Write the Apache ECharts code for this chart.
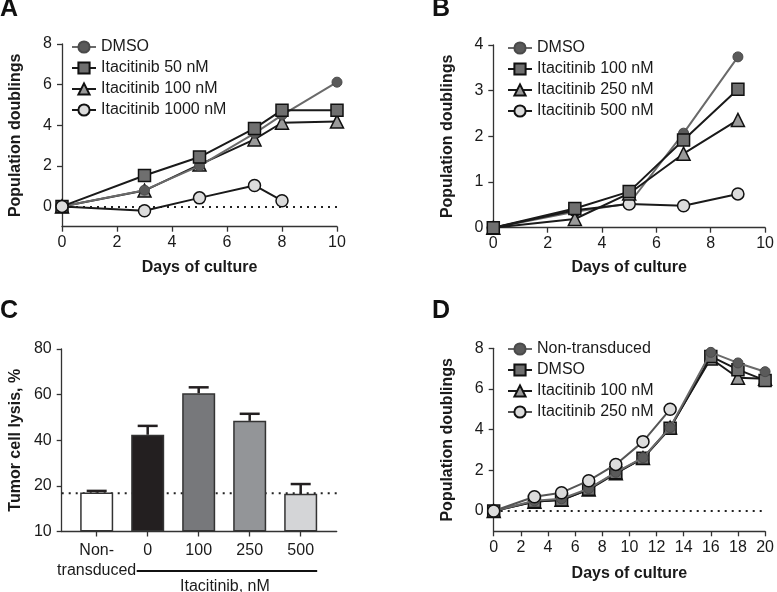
<!DOCTYPE html>
<html><head><meta charset="utf-8">
<script src="https://cdn.jsdelivr.net/npm/echarts@6/dist/echarts.min.js"></script>
<style>html,body{margin:0;padding:0;background:#fff}#c{width:777px;height:592px}</style>
</head><body><div id="c"></div>
<script>
// ---------- Panel A ----------
const aDays = [0, 3, 5, 7, 8, 10];
const aDays1000 = [0, 3, 5, 7, 8];
const aDMSO = [0, 0.8, 2.0, 3.6, 4.5, 6.12];
const a50 = [0, 1.52, 2.43, 3.84, 4.74, 4.74];
const a100 = [0, 0.78, 2.06, 3.3, 4.12, 4.18];
const a1000 = [0, -0.21, 0.42, 1.03, 0.28];
const aYTicks = [0, 2, 4, 6, 8];
// ---------- Panel B ----------
const bDays = [0, 3, 5, 7, 9];
const bDMSO = [0, 0.35, 0.53, 2.07, 3.74];
const b100 = [0, 0.42, 0.79, 1.92, 3.03];
const b250 = [0, 0.19, 0.75, 1.62, 2.36];
const b500 = [0, 0.38, 0.52, 0.48, 0.74];
// ---------- Panel C ----------
const cCats = ['Non-\ntransduced', '0', '100', '250', '500'];
const cValues = [17.1, 42.4, 60.6, 48.5, 16.5];
const cErrors = [0.7, 3.9, 2.6, 3.1, 4.3];
const cBaseline = 16.8;
const cYTicks = [0, 20, 40, 60, 80];
const cYTickLabels = ['10', '20', '40', '60', '80'];
// ---------- Panel D ----------
const dDays = [0, 3, 5, 7, 9, 11, 13, 16, 18, 20];
const dDays250 = [0, 3, 5, 7, 9, 11, 13];
const dNT = [0, 0.5, 0.6, 1.1, 1.9, 2.62, 4.1, 7.8, 7.28, 6.85];
const dDMSO = [0, 0.46, 0.54, 1.07, 1.88, 2.59, 4.07, 7.6, 6.95, 6.42];
const d100 = [0, 0.45, 0.55, 1.05, 1.85, 2.6, 4.1, 7.5, 6.55, 6.5];
const d250 = [0, 0.7, 0.9, 1.49, 2.29, 3.41, 5.0];
const dYTicks = [0, 2, 4, 6, 8];

const FONT = '"Liberation Sans", Arial, sans-serif';
const TXT = '#1a1a1a';
const AX = '#333';

function pairs(xs, ys) { return xs.map((x, i) => [x, ys[i]]); }

const STY = {
  dot: { symbol: 'circle', symbolSize: 10, itemStyle: { color: '#5a5a5a', borderColor: '#4a4a4a', borderWidth: 1 }, lineStyle: { color: '#6a6a6a', width: 2 } },
  square: { symbol: 'rect', symbolSize: 12, itemStyle: { color: '#6f6f6f', borderColor: '#111', borderWidth: 1.5 }, lineStyle: { color: '#1a1a1a', width: 2 } },
  tri: { symbol: 'triangle', symbolSize: 13, itemStyle: { color: '#9a9a9a', borderColor: '#111', borderWidth: 1.5 }, lineStyle: { color: '#1a1a1a', width: 2 } },
  ring: { symbol: 'circle', symbolSize: 12, itemStyle: { color: '#dcdcdc', borderColor: '#111', borderWidth: 1.5 }, lineStyle: { color: '#1a1a1a', width: 2 } },
  ringGrey: { symbol: 'circle', symbolSize: 12, itemStyle: { color: '#dcdcdc', borderColor: '#111', borderWidth: 1.5 }, lineStyle: { color: '#555', width: 2 } }
};

function lineSeries(name, gi, data, sty, z, zeroLine) {
  const s = {
    type: 'line', name: name, xAxisIndex: gi, yAxisIndex: gi, data: data,
    symbol: sty.symbol, symbolSize: sty.symbolSize, showSymbol: true, showAllSymbol: true,
    itemStyle: sty.itemStyle, lineStyle: sty.lineStyle, z: z,
    emphasis: { disabled: true }, silent: true, clip: false
  };
  if (zeroLine) {
    s.markLine = { silent: true, symbol: 'none', label: { show: false }, z: 1,
      lineStyle: { type: [2, 5], color: '#222', width: 2 }, data: [{ yAxis: 0 }] };
  }
  return s;
}

function xAxisV(gi, o) {
  return Object.assign({
    type: 'value', gridIndex: gi,
    axisLine: { show: true, onZero: false, lineStyle: { color: AX, width: 1.3 } },
    axisTick: { show: true, length: 5, lineStyle: { color: AX, width: 1.3 } },
    splitLine: { show: false },
    axisLabel: { color: TXT, fontFamily: FONT, fontSize: 16, margin: 8 },
    name: 'Days of culture', nameLocation: 'middle', nameGap: 33,
    nameTextStyle: { color: TXT, fontFamily: FONT, fontSize: 16, fontWeight: 'bold' }
  }, o);
}
function yAxisV(gi, o, labelExtra, tickExtra) {
  return Object.assign({
    type: 'value', gridIndex: gi,
    axisLine: { show: true, onZero: false, lineStyle: { color: AX, width: 1.3 } },
    axisTick: Object.assign({ show: true, length: 5, lineStyle: { color: AX, width: 1.3 } }, tickExtra || {}),
    splitLine: { show: false },
    axisLabel: Object.assign({ color: TXT, fontFamily: FONT, fontSize: 16, margin: 10 }, labelExtra || {}),
    name: 'Population doublings', nameLocation: 'middle', nameGap: 38,
    nameTextStyle: { color: TXT, fontFamily: FONT, fontSize: 16, fontWeight: 'bold' }
  }, o);
}

const legendBase = {
  orient: 'vertical', padding: 0, itemWidth: 24, itemHeight: 14, itemGap: 5, selectedMode: false,
  formatter: n => n.split('|')[1],
  textStyle: { color: TXT, fontFamily: FONT, fontSize: 16, padding: [0, 0, 0, 0] }
};

const chart = echarts.init(document.getElementById('c'), null, { renderer: 'canvas' });

const option = {
  animation: false,
  backgroundColor: '#fff',
  grid: [
    { left: 62, top: 44, width: 275, height: 182.7 },
    { left: 493.3, top: 45, width: 274.7, height: 182.7 },
    { left: 61.7, top: 349, width: 275, height: 182.5 },
    { left: 493.7, top: 348.3, width: 274.6, height: 183 }
  ],
  xAxis: [
    xAxisV(0, { min: 0, max: 10, interval: 2 }),
    xAxisV(1, { min: 0, max: 10, interval: 2, nameGap: 32 }),
    {
      type: 'value', gridIndex: 2, min: 0.314, max: 5.706,
      axisLine: { show: true, onZero: false, lineStyle: { color: AX, width: 1.3 } },
      axisTick: { show: true, length: 5, customValues: [1, 2, 3, 4, 5], lineStyle: { color: AX, width: 1.3 } },
      splitLine: { show: false },
      axisLabel: { color: TXT, fontFamily: FONT, fontSize: 16, margin: 9, lineHeight: 20, align: 'center',
        customValues: [1, 2, 3, 4, 5], formatter: v => cCats[Math.round(v) - 1] }
    },
    xAxisV(3, { min: 0, max: 20, interval: 2, nameGap: 34 })
  ],
  yAxis: [
    yAxisV(0, { min: -1, max: 8 }, { customValues: aYTicks }, { customValues: aYTicks }),
    yAxisV(1, { min: 0, max: 4, interval: 1 }),
    yAxisV(2, { min: 0, max: 80, interval: 20, name: 'Tumor cell lysis, %' },
      { formatter: v => cYTickLabels[cYTicks.indexOf(v)] }),
    yAxisV(3, { min: -1, max: 8 }, { customValues: dYTicks }, { customValues: dYTicks })
  ],
  legend: [
    Object.assign({}, legendBase, { left: 71, top: 39,
      data: ['A|DMSO', 'A|Itacitinib 50 nM', 'A|Itacitinib 100 nM', 'A|Itacitinib 1000 nM'] }),
    Object.assign({}, legendBase, { left: 507, top: 40,
      data: ['B|DMSO', 'B|Itacitinib 100 nM', 'B|Itacitinib 250 nM', 'B|Itacitinib 500 nM'] }),
    Object.assign({}, legendBase, { left: 507, top: 341,
      data: ['D|Non-transduced', 'D|DMSO', 'D|Itacitinib 100 nM', 'D|Itacitinib 250 nM'] })
  ],
  series: [
    // A
    lineSeries('A|Itacitinib 100 nM', 0, pairs(aDays, a100), STY.tri, 2, true),
    lineSeries('A|DMSO', 0, pairs(aDays, aDMSO), STY.dot, 3),
    lineSeries('A|Itacitinib 50 nM', 0, pairs(aDays, a50), STY.square, 4),
    lineSeries('A|Itacitinib 1000 nM', 0, pairs(aDays1000, a1000), STY.ring, 5),
    // B
    lineSeries('B|DMSO', 1, pairs(bDays, bDMSO), STY.dot, 2),
    lineSeries('B|Itacitinib 500 nM', 1, pairs(bDays, b500), STY.ring, 3),
    lineSeries('B|Itacitinib 250 nM', 1, pairs(bDays, b250), STY.tri, 4),
    lineSeries('B|Itacitinib 100 nM', 1, pairs(bDays, b100), STY.square, 5),
    // C
    {
      type: 'line', xAxisIndex: 2, yAxisIndex: 2, z: 1, silent: true, symbol: 'none',
      data: [[0.314, cBaseline], [5.706, cBaseline]],
      lineStyle: { type: [2, 5], color: '#222', width: 2 }
    },
    {
      type: 'bar', xAxisIndex: 2, yAxisIndex: 2, z: 2, barWidth: 33, silent: true,
      data: cValues.map((v, i) => ({
        value: [i + 1, v],
        itemStyle: { color: ['#ffffff', '#231f20', '#77787b', '#939598', '#d4d5d7'][i], borderColor: '#333', borderWidth: 1.5 }
      }))
    },
    {
      type: 'custom', xAxisIndex: 2, yAxisIndex: 2, z: 3, silent: true,
      data: cValues.map((v, i) => [i + 1, v, cErrors[i]]),
      encode: { x: 0, y: 1 },
      renderItem: function (params, api) {
        const x = api.value(0), v = api.value(1), e = api.value(2);
        const p0 = api.coord([x, v]);
        const p1 = api.coord([x, v + e]);
        return {
          type: 'group', children: [
            { type: 'line', shape: { x1: p0[0], y1: p0[1], x2: p1[0], y2: p1[1] }, style: { stroke: '#231f20', lineWidth: 2.5 } },
            { type: 'line', shape: { x1: p1[0] - 10, y1: p1[1], x2: p1[0] + 10, y2: p1[1] }, style: { stroke: '#231f20', lineWidth: 2.5 } }
          ]
        };
      }
    },
    // D
    lineSeries('D|Itacitinib 100 nM', 3, pairs(dDays, d100), STY.tri, 2, true),
    lineSeries('D|DMSO', 3, pairs(dDays, dDMSO), STY.square, 3),
    lineSeries('D|Non-transduced', 3, pairs(dDays, dNT), STY.dot, 4),
    lineSeries('D|Itacitinib 250 nM', 3, pairs(dDays250, d250), STY.ringGrey, 5)
  ],
  graphic: [
    { type: 'text', left: 0, top: -3, style: { text: 'A', font: 'bold 25px "Liberation Sans", Arial, sans-serif', fill: '#111' } },
    { type: 'text', left: 432, top: -3, style: { text: 'B', font: 'bold 25px "Liberation Sans", Arial, sans-serif', fill: '#111' } },
    { type: 'text', left: 0, top: 299, style: { text: 'C', font: 'bold 25px "Liberation Sans", Arial, sans-serif', fill: '#111' } },
    { type: 'text', left: 432, top: 299, style: { text: 'D', font: 'bold 25px "Liberation Sans", Arial, sans-serif', fill: '#111' } }
  ]
};
chart.setOption(option);

// Bracket under panel C's Itacitinib groups, anchored to the axis scale
const xs = chart.convertToPixel({ xAxisIndex: 2 }, 2);
const xe = chart.convertToPixel({ xAxisIndex: 2 }, 5);
const yb = chart.convertToPixel({ yAxisIndex: 2 }, 0);
const bx1 = xs - 11, bx2 = xe + 16.5;
chart.setOption({
  graphic: [
    { type: 'text', left: 0, top: -3, style: { text: 'A', font: 'bold 25px "Liberation Sans", Arial, sans-serif', fill: '#111' } },
    { type: 'text', left: 432, top: -3, style: { text: 'B', font: 'bold 25px "Liberation Sans", Arial, sans-serif', fill: '#111' } },
    { type: 'text', left: 0, top: 299, style: { text: 'C', font: 'bold 25px "Liberation Sans", Arial, sans-serif', fill: '#111' } },
    { type: 'text', left: 432, top: 299, style: { text: 'D', font: 'bold 25px "Liberation Sans", Arial, sans-serif', fill: '#111' } },
    { type: 'line', shape: { x1: bx1, y1: yb + 39.5, x2: bx2, y2: yb + 39.5 }, style: { stroke: '#111', lineWidth: 2 } },
    { type: 'text', x: (bx1 + bx2) / 2 - 2, y: yb + 55.5,
      style: { text: 'Itacitinib, nM', font: '16px "Liberation Sans", Arial, sans-serif', fill: TXT, align: 'center', verticalAlign: 'middle' } }
  ]
});
</script>
</body></html>
